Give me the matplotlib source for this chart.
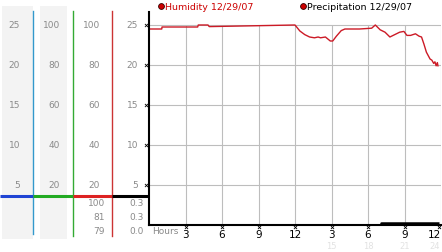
import matplotlib
matplotlib.use("Agg")
import matplotlib.pyplot as plt
from matplotlib.transforms import blended_transform_factory
from matplotlib.patches import Rectangle

# ---- data ----
hum_hours = [0, 1.05, 1.07, 4.0, 4.05, 4.85, 4.95, 12.0, 12.4, 12.8, 13.2, 13.6, 13.9, 14.1,
             14.5, 14.9, 15.1, 15.4, 15.8, 16.1, 17.3, 18.3, 18.6, 19.0, 19.4, 19.8, 20.2,
             20.6, 20.95, 21.2, 21.5, 21.9, 22.2, 22.4, 22.6, 22.8, 23.1, 23.25, 23.4, 23.5,
             23.6, 23.7, 23.75]
hum_vals = [24.5, 24.5, 24.75, 24.75, 25.0, 25.0, 24.8, 25.0, 24.25, 23.8, 23.5, 23.4, 23.5, 23.4,
            23.5, 23.0, 23.0, 23.6, 24.3, 24.5, 24.5, 24.6, 25.0, 24.4, 24.1, 23.5, 23.8,
            24.1, 24.2, 23.7, 23.7, 23.9, 23.6, 23.5, 22.6, 21.6, 20.75, 20.6, 20.2, 20.4,
            19.9, 20.3, 19.9]
pre_hours = [0, 19.1, 23.8]
pre_vals = [0.0, 0.25, 0.25]

y_ticks = [25, 20, 15, 10, 5]
col1_labels = ["25", "20", "15", "10", "5"]
col2_labels = ["100", "80", "60", "40", "20"]
col3_labels = ["100", "80", "60", "40", "20"]
col4_labels = ["25", "20", "15", "10", "5"]
stat3 = ["100", "81", "79"]
stat4 = ["0.3", "0.3", "0.0"]
x_ticks = [3, 6, 9, 12, 15, 18, 21, 24]
x_labels = ["3", "6", "9", "12", "3", "6", "9", "12"]
x_labels2 = ["15", "18", "21", "24"]

W, H = 442, 253
fig = plt.figure(figsize=(W / 100, H / 100), dpi=100)
plt.rcParams['font.family'] = ['DejaVu Sans']

PX = 8.0  # pixels per y unit
ax = fig.add_axes([149 / W, 27 / H, 292 / W, 213 / H])
ax.set_xlim(0, 24)
ax.set_ylim(0, 213 / PX)
ax.axis("off")

grid_c = "#bdbdbd"
ax.vlines(x_ticks, 0, 25, color=grid_c, lw=0.8, zorder=1)
ax.hlines(y_ticks, 0, 24, color=grid_c, lw=0.8, zorder=1)

ax.plot(hum_hours, hum_vals, color="#cc1a26", lw=1.0, zorder=3)
ax.plot(pre_hours, pre_vals, color="black", lw=1.8, drawstyle="steps-post", zorder=4,
        solid_capstyle="butt")

# axis lines
ax.plot([0, 0], [0, 213 / PX], color="black", lw=1.5, clip_on=False, zorder=5)
ax.plot([0, 24], [0, 0], color="black", lw=1.5, clip_on=False, zorder=5)
ax.plot([0, 0.25], [-0.02, -0.02], color="black", lw=1.2, clip_on=False, zorder=5)

# tick markers
ax.scatter([-0.25] * len(y_ticks), y_ticks, marker="x", s=5, lw=0.6, color="black",
           clip_on=False, zorder=5)
ax.scatter([xv if xv < 24 else xv - 0.2 for xv in x_ticks], [-0.3] * len(x_ticks),
           marker="x", s=5, lw=0.6, color="black", clip_on=False, zorder=5)

for xv, lab in zip(x_ticks, x_labels):
    ax.text(xv if xv < 24 else xv - 0.5, -1.15, lab, ha="center", va="center", fontsize=7.5,
            color="black", clip_on=False)
for xv, lab in zip(x_ticks[4:], x_labels2):
    ax.text(xv if xv < 24 else xv - 0.5, -2.55, lab, ha="center", va="center", fontsize=6,
            color="#e2e2e2", clip_on=False)
ax.text(0.25, -0.75, "Hours", ha="left", va="center", fontsize=6.5, color="#8a8a8a",
        clip_on=False)

# legend
fig.text(165 / W, 1 - 7.5 / H, "Humidity 12/29/07", ha="left", va="center", fontsize=6.8,
         color="#cc0000")
fig.text(307 / W, 1 - 7.5 / H, "Precipitation 12/29/07", ha="left", va="center", fontsize=6.8,
         color="black")
for cx in (161, 303):
    fig.add_artist(plt.Line2D([cx / W], [1 - 7 / H], marker="o", markersize=4.2,
                              markerfacecolor="#cc0000", markeredgecolor="#330000",
                              markeredgewidth=0.6, transform=fig.transFigure))

# left panel
axl = fig.add_axes([0, 0, 149 / W, 1])
axl.set_xlim(0, 149)
axl.axis("off")
tr = blended_transform_factory(axl.transData, ax.transData)

top_bg = (226 - 7) / PX
bot_bg = (226 - 240) / PX
for x0, x1 in ((2, 33), (40, 67)):
    axl.add_patch(Rectangle((x0, bot_bg), x1 - x0, top_bg - bot_bg, facecolor="#f3f3f3",
                            edgecolor="none", transform=tr, clip_on=False, zorder=0))

line_top = (226 - 12) / PX
for xv, c, yb in ((33, "#3399cc", (226 - 235) / PX), (72.5, "#33aa33", (226 - 237) / PX),
                  (111.5, "#cc3333", (226 - 237) / PX)):
    axl.plot([xv, xv], [yb, line_top], color=c, lw=1.0, transform=tr, clip_on=False, zorder=2)

base_y = (226 - 197) / PX
for x0, x1, c in ((0, 33, "#1f44d4"), (33, 72.5, "#22aa22"), (72.5, 111.5, "#dd2222"),
                  (111.5, 149, "black")):
    axl.plot([x0, x1], [base_y, base_y], color=c, lw=2.2, transform=tr, clip_on=False,
             solid_capstyle="butt", zorder=3)

gray = "#8a8a8a"
for xr, labs in ((20, col1_labels), (60, col2_labels), (100, col3_labels), (138, col4_labels)):
    for yv, lab in zip(y_ticks, labs):
        axl.text(xr, yv, lab, ha="right", va="center", fontsize=6.5, color=gray, transform=tr)

for i, (a, b) in enumerate(zip(stat3, stat4)):
    yv = (226 - 204 - 14 * i) / PX
    axl.text(105, yv, a, ha="right", va="center", fontsize=6.5, color=gray, transform=tr)
    axl.text(144, yv, b, ha="right", va="center", fontsize=6.5, color=gray, transform=tr)

fig.savefig("out.png", dpi=100)
